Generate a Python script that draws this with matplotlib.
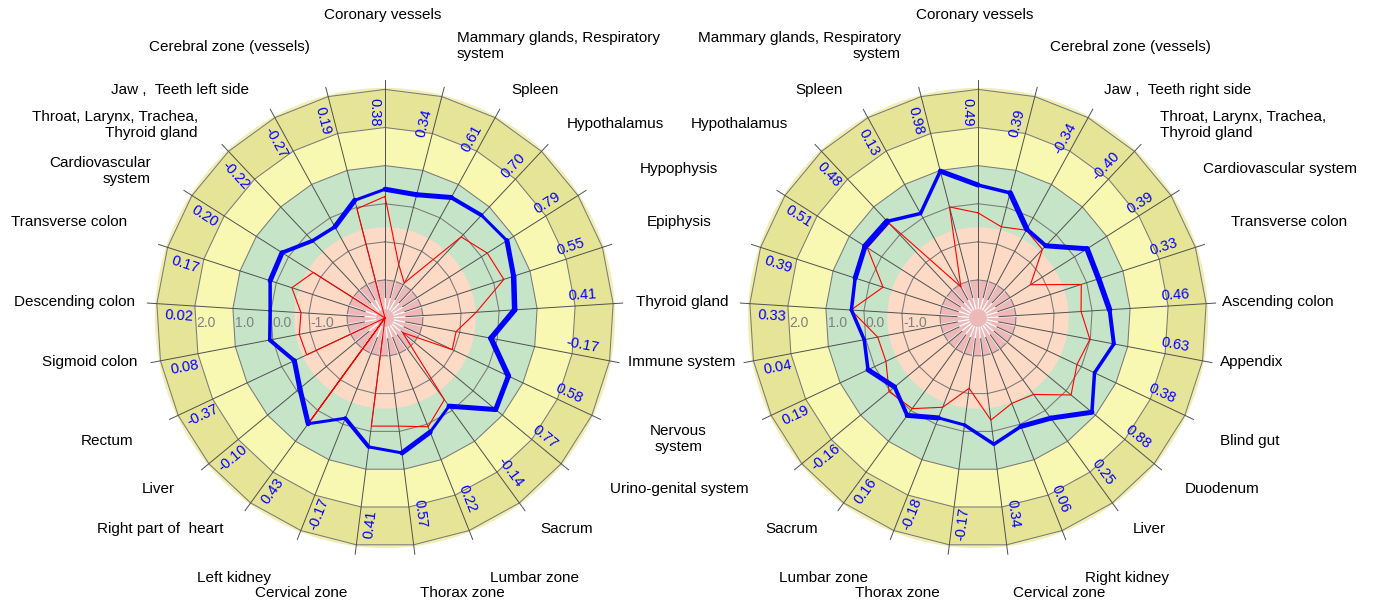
import numpy as np
import matplotlib
matplotlib.use("Agg")
import matplotlib.pyplot as plt
import matplotlib.transforms as mtransforms

plt.rcParams["font.family"] = ["Liberation Sans", "DejaVu Sans"]

# ---- data -------------------------------------------------------------
left_labels = ["Coronary vessels", "Mammary glands, Respiratory\nsystem", "Spleen",
               "Hypothalamus", "Hypophysis", "Epiphysis", "Thyroid gland",
               "Immune system", "Nervous\nsystem", "Urino-genital system", "Sacrum",
               "Lumbar zone", "Thorax zone", "Cervical zone", "Left kidney",
               "Right part of  heart", "Liver", "Rectum", "Sigmoid colon",
               "Descending colon", "Transverse colon", "Cardiovascular\nsystem",
               "Throat, Larynx, Trachea,\nThyroid gland", "Jaw ,  Teeth left side",
               "Cerebral zone (vessels)"]
left_blue = [0.38, 0.34, 0.61, 0.70, 0.79, 0.55, 0.41, -0.17, 0.58, 0.77, -0.14, 0.22,
             0.57, 0.41, -0.17, 0.43, -0.10, -0.37, 0.08, 0.02, 0.17, 0.20, -0.22,
             -0.27, 0.19]
left_red = [0.19, -1.55, -1.95, -0.08, 0.18, 0.28, -0.60, -1.10, -1.05, -2.40, -0.35,
            0.07, -0.14, -0.14, -3.00, 0.40, -3.00, -0.73, -0.71, -0.79, -0.43, -0.77,
            -3.00, -3.00, -0.04]

right_labels = ["Coronary vessels", "Cerebral zone (vessels)", "Jaw ,  Teeth right side",
                "Throat, Larynx, Trachea,\nThyroid gland", "Cardiovascular system",
                "Transverse colon", "Ascending colon", "Appendix", "Blind gut",
                "Duodenum", "Liver", "Right kidney", "Cervical zone", "Thorax zone",
                "Lumbar zone", "Sacrum", "Urino-genital system", "Nervous\nsystem",
                "Immune system", "Thyroid gland", "Epiphysis", "Hypophysis",
                "Hypothalamus", "Spleen", "Mammary glands, Respiratory\nsystem"]
right_blue = [0.49, 0.39, -0.34, -0.40, 0.39, 0.33, 0.46, 0.63, 0.38, 0.88, 0.25, 0.06,
              0.34, -0.17, -0.18, 0.16, -0.16, 0.19, 0.04, 0.33, 0.39, 0.51, 0.48, 0.13,
              0.98]
right_red = [-0.24, -0.53, -0.37, -0.53, -1.37, -0.15, -0.29, -0.01, -0.13, 0.17, -0.52,
             -0.59, -0.30, -1.14, -0.48, -0.06, 0.03, -0.33, -0.32, 0.34, -0.38, 0.44,
             0.41, -2.07, 0.01]

scale_ticks = [2.0, 1.0, 0.0, -1.0]

# ---- layout / style ---------------------------------------------------
W, H = 1377, 603
left_center = (385, 318)
right_center = (978, 318)

# blue pen width (px) of each segment i -> i+1
left_widths = [5, 5, 4, 3, 5, 5.5, 5.5, 5.5, 5, 5, 3, 5, 3, 4, 3, 5, 5, 4, 3.5, 3.5,
               5, 4, 3.5, 5, 3]
right_widths = [3.5, 5.5, 4, 5, 5.5, 5.5, 4, 3.5, 3.5, 5, 5, 3.5, 3.5, 3, 5, 4, 5, 3.5,
                3.5, 3.5, 5, 6, 3.5, 3.5, 5]

# label anchor offsets (px from chart centre): (dx, dy, ha)
left_label_pos = [(-2, -303, "center"), (72, -272, "left"), (126, -228, "left"),
                  (182, -194, "left"), (255, -149, "left"), (262, -96, "left"),
                  (251, -16, "left"), (243, 44, "left"), (265, 121, "left"),
                  (225, 171, "left"), (155, 211, "left"), (105, 260, "left"),
                  (35, 275, "left"), (-38, 275, "right"), (-114, 260, "right"),
                  (-162, 211, "right"), (-210, 171, "right"), (-252, 123, "right"),
                  (-248, 44, "right"), (-250, -16, "right"), (-258, -96, "right"),
                  (-234, -147, "right"), (-187, -193, "right"), (-136, -228, "right"),
                  (-75, -271, "right")]
right_label_pos = [(-3, -303, "center"), (72, -271, "left"), (126, -228, "left"),
                   (182, -193, "left"), (225, -149, "left"), (253, -96, "left"),
                   (244, -16, "left"), (242, 44, "left"), (242, 123, "left"),
                   (207, 171, "left"), (155, 211, "left"), (107, 260, "left"),
                   (35, 275, "left"), (-38, 275, "right"), (-110, 260, "right"),
                   (-160, 211, "right"), None, None, None, None, None, None,
                   (-190, -194, "right"), (-135, -228, "right"), (-77, -272, "right")]

RMIN, RMAX = -3.0, 3.25
PX_PER_UNIT = 38.1
KHAKI = "#e6e496"
YELLOW = "#f8f8b2"
GREEN = "#c6e4c8"
SALMON = "#fcdac6"
PINK = "#ecb8b8"
RIM = "#f1efb4"

fig = plt.figure(figsize=(W / 100, H / 100), dpi=100)


def make_axes(center):
    rad = (RMAX - RMIN) * PX_PER_UNIT
    cx, cy = center
    ax = fig.add_axes([(cx - rad) / W, (H - cy - rad) / H, 2 * rad / W, 2 * rad / H],
                      projection="polar")
    ax.set_theta_zero_location("N")
    ax.set_theta_direction(-1)
    ax.set_ylim(RMIN, RMAX)
    ax.grid(False)
    ax.set_xticks([])
    ax.set_yticks([])
    ax.spines["polar"].set_visible(False)
    ax.patch.set_alpha(0)
    return ax


def draw_chart(ax, center, labels, blue, red, widths, label_pos):
    n = len(blue)
    theta = np.arange(n) * 2 * np.pi / n
    tc = np.append(theta, theta[0])
    circ = np.linspace(0, 2 * np.pi, 361)

    # coloured bands
    ax.fill(circ, np.full(circ.size, 3.04), color=RIM, lw=0, zorder=1)
    ax.fill(tc, np.full(n + 1, 3.0), color=KHAKI, lw=0, zorder=1)
    ax.fill(tc, np.full(n + 1, 2.0), color=YELLOW, lw=0, zorder=1)
    ax.fill(tc, np.full(n + 1, 1.0), color=GREEN, lw=0, zorder=1)
    ax.fill(circ, np.full(circ.size, -0.62), color=SALMON, lw=0, zorder=1)
    ax.fill(tc, np.full(n + 1, -2.0), color=PINK, lw=0, zorder=1)

    # rings
    for v in [-2, -1, 0, 1, 2, 3]:
        ax.plot(tc, np.full(n + 1, v), color="#7a7a7a", lw=0.75, zorder=2)

    # spokes (with the light gap line beside them)
    for t in theta:
        ax.plot([t + np.radians(1.0), t + np.radians(1.0)], [-2.75, -2.0],
                color="white", lw=0.9, zorder=2)
        ax.plot([t, t], [-2.45, RMAX], color="#505050", lw=0.7, zorder=3,
                clip_on=False)

    # scale labels
    off = mtransforms.offset_copy(ax.transData, fig=fig, x=2, y=-5, units="dots")
    for v in scale_ticks:
        ax.text(np.radians(270), v, f"{v:.1f}", transform=off, ha="left",
                va="center", fontsize=10, color="#808080", zorder=4)

    # series
    ax.plot(np.append(theta, theta[0]), np.append(red, red[0]), color="red",
            lw=0.8, zorder=5)
    for i in range(n):
        j = (i + 1) % n
        ax.plot([theta[i], theta[j]], [blue[i], blue[j]], color="#0000ff",
                lw=widths[i] * 0.72, solid_capstyle="round", zorder=6)

    # values in outer ring
    for i in range(n):
        deg = np.degrees(theta[i])
        if 0 < deg < 180:
            rot, rr = 90 - deg, 2.22
        else:
            rot, rr = 270 - deg, 2.42
        ax.text(theta[i] - np.radians(3.0), rr, f"{blue[i]:.2f}", rotation=rot,
                rotation_mode="anchor", ha="center", va="center", fontsize=10.5,
                color="#0000ff", zorder=7)

    # category labels
    cx, cy = center
    for lab, pos in zip(labels, label_pos):
        if pos is None:
            continue
        dx, dy, ha = pos
        fig.text((cx + dx) / W, (H - cy - dy) / H, lab, ha=ha, va="center",
                 multialignment="center" if "Nervous" in lab else ha,
                 fontsize=11, color="black", linespacing=1.25)


axl = make_axes(left_center)
draw_chart(axl, left_center, left_labels, left_blue, left_red, left_widths,
           left_label_pos)
axr = make_axes(right_center)
draw_chart(axr, right_center, right_labels, right_blue, right_red, right_widths,
           right_label_pos)

fig.savefig("out.png", dpi=100, facecolor="white")
